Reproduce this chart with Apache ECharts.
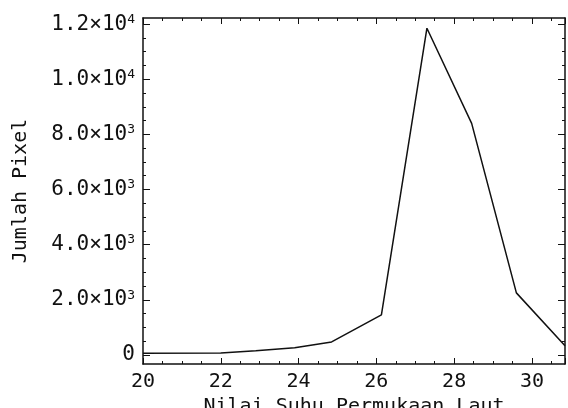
<!DOCTYPE html>
<html>
<head>
<meta charset="utf-8">
<script src="https://cdn.jsdelivr.net/npm/echarts@6/dist/echarts.min.js"></script>
<style>
  html, body { margin: 0; padding: 0; background: #fff; }
  #chart { width: 568px; height: 408px; }
</style>
</head>
<body>
<div id="chart"></div>
<script>
// sea surface temperature (x) vs pixel count (y)
var sst    = [20, 22, 22.9, 23.9, 24.85, 26.13, 27.3, 28.45, 29.6, 30.85];
var pixels = [60, 70, 150, 260, 470, 1450, 11850, 8400, 2250, 330];

var yMajor = [0, 2000, 4000, 6000, 8000, 10000, 12000];
var yMinor = [500, 1000, 1500, 2500, 3000, 3500, 4500, 5000, 5500, 6500, 7000, 7500,
              8500, 9000, 9500, 10500, 11000, 11500];

var font = 'DejaVu Sans Mono';
var ink = '#111';

var data = sst.map(function (x, i) { return [x, pixels[i]]; });

function yFmt(v) {
    if (v === 0) return '{b|0}';
    var e = Math.floor(Math.log10(v));
    var m = (v / Math.pow(10, e)).toFixed(1);
    return '{b|' + m + '×10}{s|' + e + '}';
}

var xBase = {
    type: 'value', min: 20, max: 30.85, interval: 2,
    axisLine: { onZero: false, lineStyle: { color: ink, width: 1.5 } },
    axisTick: { inside: true, length: 6, lineStyle: { color: ink } },
    minorTick: { show: true, splitNumber: 4, length: 3, lineStyle: { color: ink } },
    splitLine: { show: false }
};

var yBase = {
    type: 'value', min: -330, max: 12220,
    axisLine: { onZero: false, lineStyle: { color: ink, width: 1.5 } },
    splitLine: { show: false }
};

var myChart = echarts.init(document.getElementById('chart'));

var option = {
    backgroundColor: '#fff',
    animation: false,
    grid: { left: 143, top: 18, right: 3, bottom: 44, containLabel: false, outerBoundsMode: 'none' },
    xAxis: [
        Object.assign({}, xBase, {
            position: 'bottom',
            name: 'Nilai Suhu Permukaan Laut',
            nameLocation: 'middle',
            nameGap: 29,
            nameTextStyle: { fontFamily: font, fontSize: 20, color: ink },
            axisLabel: { fontFamily: font, fontSize: 20, color: ink, margin: 8 }
        }),
        Object.assign({}, xBase, { position: 'top', axisLabel: { show: false } })
    ],
    yAxis: [
        Object.assign({}, yBase, {
            position: 'left',
            name: 'Jumlah Pixel',
            nameLocation: 'middle',
            nameGap: 112,
            nameTextStyle: { fontFamily: font, fontSize: 20, color: ink },
            axisTick: { inside: true, length: 7, customValues: yMajor, lineStyle: { color: ink } },
            axisLabel: {
                customValues: yMajor, margin: 8, formatter: yFmt,
                rich: {
                    b: { fontFamily: font, fontSize: 21, color: ink, lineHeight: 22 },
                    s: { fontFamily: font, fontSize: 13, color: ink, lineHeight: 22, verticalAlign: 'top', padding: [0, 0, 10, 0] }
                }
            }
        }),
        Object.assign({}, yBase, {
            position: 'left',
            axisLine: { show: false },
            axisTick: { inside: true, length: 3, customValues: yMinor, lineStyle: { color: ink } },
            axisLabel: { show: false }
        }),
        Object.assign({}, yBase, {
            position: 'right',
            axisTick: { inside: true, length: 7, customValues: yMajor, lineStyle: { color: ink } },
            axisLabel: { show: false }
        }),
        Object.assign({}, yBase, {
            position: 'right',
            axisLine: { show: false },
            axisTick: { inside: true, length: 3, customValues: yMinor, lineStyle: { color: ink } },
            axisLabel: { show: false }
        })
    ],
    series: [{
        type: 'line',
        xAxisIndex: 0,
        yAxisIndex: 0,
        data: data,
        showSymbol: false,
        lineStyle: { color: ink, width: 1.5 }
    }]
};
myChart.setOption(option);
</script>
</body>
</html>
